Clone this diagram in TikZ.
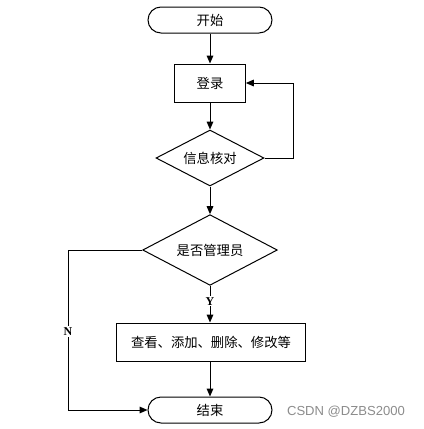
\documentclass[tikz,border=0pt]{standalone}
\usepackage{fontspec}
\usepackage{tikz}
\usetikzlibrary{arrows.meta, shapes.geometric}
\newfontfamily\cjk{Noto Sans CJK SC}
\newfontfamily\wmfont{Liberation Sans}
\setmainfont{Liberation Serif}

\tikzset{
  flow/.style={draw, line width=0.75pt, -{Triangle[length=6pt,width=5pt]}},
  term/.style={draw, line width=0.75pt, rounded corners=9.75pt, minimum width=93pt, minimum height=19.5pt, inner sep=0pt, font=\cjk\fontsize{10}{10}\selectfont},
  procbox/.style={draw, line width=0.75pt, minimum height=28.5pt, inner sep=0pt, font=\cjk\fontsize{10}{10}\selectfont},
  decide/.style={draw, diamond, aspect=1.9, line width=0.75pt, inner sep=0pt, font=\cjk\fontsize{10}{10}\selectfont},
  yn/.style={fill=white, inner sep=1pt, font=\bfseries\fontsize{9}{9}\selectfont}
}

\begin{document}
\begin{tikzpicture}[x=0.75pt, y=-0.75pt]
\useasboundingbox (0,0) rectangle (424,429);
\node[term] (start) at (210,20) {开始};
\node[procbox, minimum width=53pt] (login) at (210,83) {登录};
\node[decide, minimum width=81pt, minimum height=42pt] (check) at (210,158) {信息核对};
\node[decide, minimum width=101pt, minimum height=53pt] (admin) at (210,250) {是否管理员};
\node[procbox, minimum width=142pt] (ops) at (211,342) {查看、添加、删除、修改等};
\node[term] (end) at (210,410) {结束};
\coordinate (loopc) at (293,158);
\coordinate (noc) at (68,250);
% main flow
\draw[flow] (start) -- (login);
\draw[flow] (login) -- (check);
\draw[flow] (check) -- (admin);
\draw[flow] (ops.south -| end.north) -- (end.north);
\draw[flow] (check.east) -- (loopc) |- (login.east);
\draw[flow] (admin.south) -- (admin.south |- ops.north) node[yn, pos=0.42] (ylab) {Y};
\draw[flow] (admin.west) -- (noc) |- (end.west) node[yn, pos=0.255] (nlab) {N};
% watermark
\node[text=black!45, font=\wmfont\fontsize{9.8}{9.8}\selectfont] (mark) at (346,412) {CSDN @DZBS2000};
\end{tikzpicture}
\end{document}
